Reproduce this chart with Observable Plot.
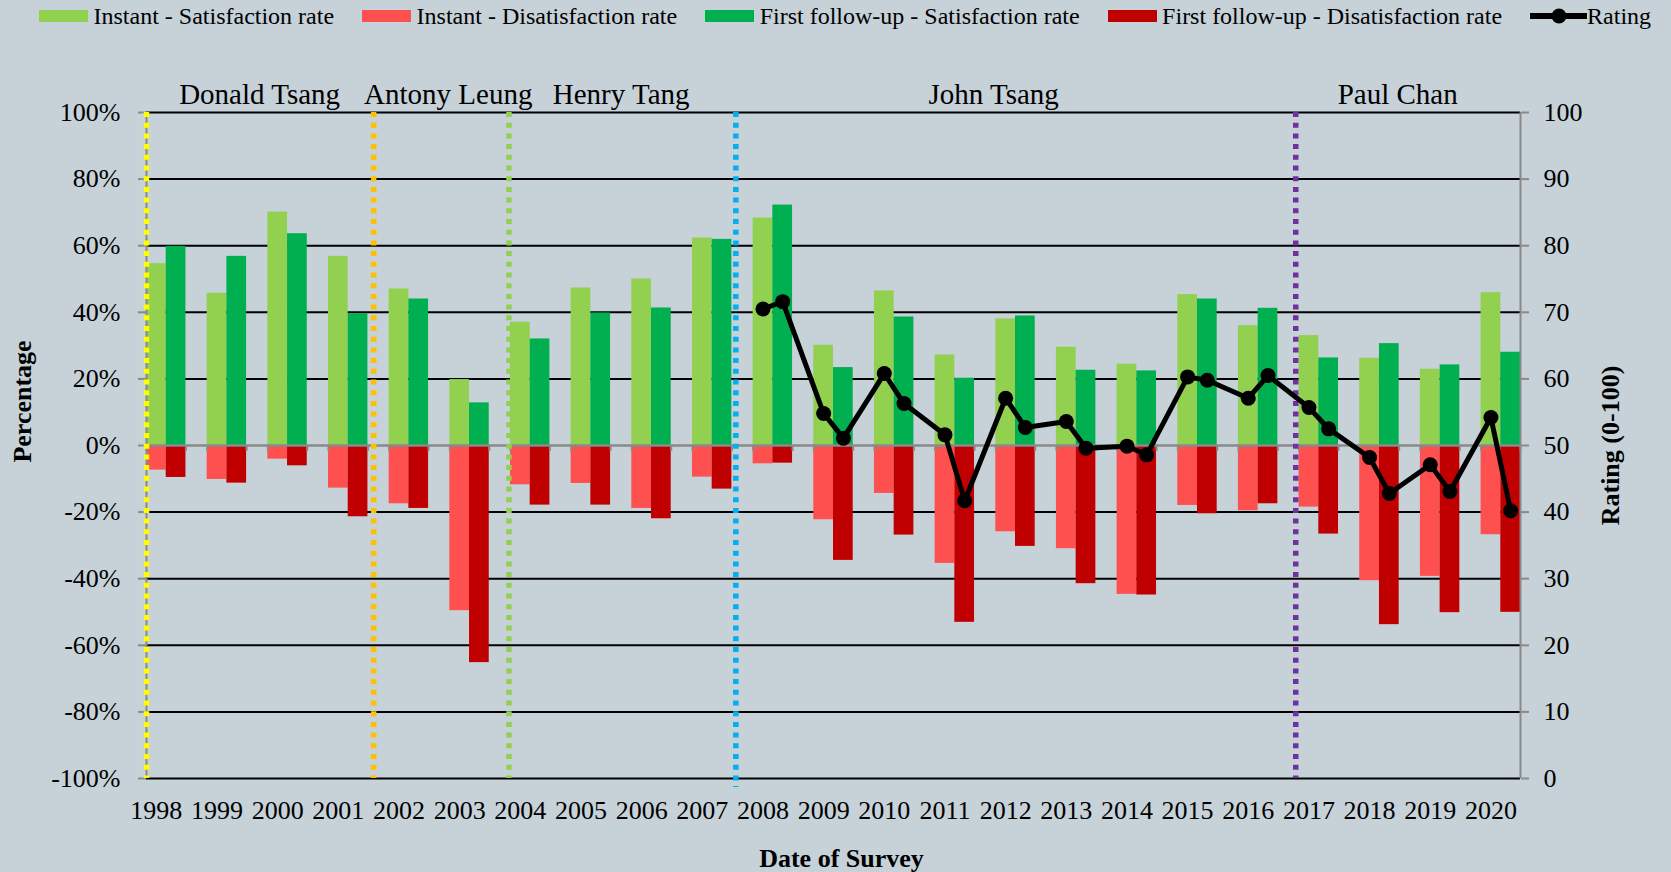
<!DOCTYPE html>
<html>
<head>
<meta charset="utf-8">
<script src="https://cdn.jsdelivr.net/npm/d3@7"></script>
<script src="https://cdn.jsdelivr.net/npm/@observablehq/plot@0.6"></script>
<style>
html, body { margin: 0; padding: 0; background: #C6D1D8; }
body { width: 1671px; height: 872px; overflow: hidden; font-family: 'Liberation Serif', 'Times New Roman', serif; color: #000; }
#legend { height: 32px; display: flex; align-items: center; padding-left: 39px; gap: 28px; font-size: 24px; white-space: nowrap; }
#legend .item { display: flex; align-items: center; }
#legend .sw { width: 49px; height: 12px; margin-right: 5.5px; }
#legend .ln { position: relative; width: 57px; height: 6px; background: #000; }
#legend .ln::after { content: ""; position: absolute; left: 50%; top: 50%; width: 15px; height: 15px; border-radius: 50%; background: #000; transform: translate(-50%, -50%); }
#chart svg { display: block; }
</style>
</head>
<body>
<div id="legend"></div>
<div id="chart"></div>
<script>
// ---- Data ----
const years = [1998, 1999, 2000, 2001, 2002, 2003, 2004, 2005, 2006, 2007, 2008, 2009, 2010, 2011, 2012, 2013, 2014, 2015, 2016, 2017, 2018, 2019, 2020];

const seriesNames = ["Instant - Satisfaction rate", "Instant - Disatisfaction rate", "First follow-up - Satisfaction rate", "First follow-up - Disatisfaction rate"];
const seriesColors = ["#92D050", "#FF5050", "#00B050", "#C00000"];
const ratingName = "Rating";

// percentages
const instantSat = [54.6, 45.7, 70.1, 56.8, 47.0, 19.8, 37.0, 47.3, 50.0, 62.3, 68.3, 30.1, 46.4, 27.2, 38.0, 29.5, 24.4, 45.3, 36.0, 33.0, 26.2, 22.9, 45.9];
const instantDis = [7.4, 10.2, 4.1, 12.8, 17.5, 49.6, 11.8, 11.4, 18.9, 9.5, 5.5, 22.3, 14.4, 35.4, 25.9, 31.0, 44.7, 18.0, 19.6, 18.5, 40.6, 39.3, 26.8];
const followSat = [59.8, 56.8, 63.6, 39.6, 44.0, 12.8, 32.0, 39.8, 41.3, 61.9, 72.2, 23.4, 38.6, 20.2, 38.9, 22.6, 22.4, 44.0, 41.2, 26.3, 30.6, 24.2, 28.0];
const followDis = [9.6, 11.3, 6.1, 21.4, 18.9, 65.2, 17.9, 17.9, 22.0, 13.1, 5.3, 34.5, 26.9, 53.1, 30.3, 41.5, 44.9, 20.5, 17.5, 26.6, 53.8, 50.2, 50.1];

// rating (0-100), only from 2008
const ratingInstant = [null, null, null, null, null, null, null, null, null, null, 70.5, 54.8, 60.8, 51.6, 57.1, 53.6, 49.9, 60.3, 57.1, 55.7, 48.2, 47.1, 54.2];
const ratingFollow  = [null, null, null, null, null, null, null, null, null, null, 71.6, 51.1, 56.3, 41.7, 52.7, 49.6, 48.6, 59.8, 60.5, 52.5, 42.8, 43.1, 40.2];

// Financial Secretaries: term start (in year units on the axis) and label position
const secretaries = ["Donald Tsang", "Antony Leung", "Henry Tang", "John Tsang", "Paul Chan"];
const termStarts = [1997.675, 2001.42, 2003.65, 2007.39, 2016.62];
const labelAt = [1999.54, 2002.65, 2005.5, 2011.64, 2018.3];
const termColors = ["#FFFF00", "#FFC000", "#92D050", "#00B0F0", "#7030A0"];

const pctTicks = [-100, -80, -60, -40, -20, 0, 20, 40, 60, 80, 100];

// ---- Legend ----
const legend = document.getElementById("legend");
seriesNames.forEach((name, i) => {
  const it = document.createElement("div");
  it.className = "item";
  it.innerHTML = `<span class="sw" style="background:${seriesColors[i]}"></span><span>${name}</span>`;
  legend.appendChild(it);
});
{
  const it = document.createElement("div");
  it.className = "item";
  it.innerHTML = `<span class="ln"></span><span>${ratingName}</span>`;
  legend.appendChild(it);
}

// ---- Build tables ----
const half = 0.325; // width of one bar in year units
const rows = years.map((year, i) => ({year, iS: instantSat[i], iD: instantDis[i], fS: followSat[i], fD: followDis[i]}));
const rating = years.flatMap((year, i) => ratingInstant[i] == null ? [] : [
  {x: year - half / 2, r: ratingInstant[i]},
  {x: year + half / 2, r: ratingFollow[i]}
]);
const terms = secretaries.map((name, i) => ({name, start: termStarts[i], at: labelAt[i], color: termColors[i]}));
const toPct = r => r * 2 - 100;
const xMin = years[0] - half, xMax = years[years.length - 1] + half;
const edges = years.flatMap(y => [y - half, y + half]);
const gray = "#8a8a8a";
const dots = {strokeWidth: 5.5, strokeDasharray: "5,5.7"};

const chart = Plot.plot({
  width: 1671,
  height: 840,
  marginLeft: 146,
  marginRight: 151,
  marginTop: 80,
  marginBottom: 94,
  style: {background: "#C6D1D8", fontFamily: "'Liberation Serif', 'Times New Roman', serif", color: "#000", overflow: "visible"},
  x: {type: "linear", domain: [xMin, xMax], axis: null},
  y: {domain: [-100, 100], axis: null},
  color: {type: "identity"},
  marks: [
    Plot.ruleY(pctTicks.filter(d => d !== 0), {y: d => d, stroke: "#000", strokeWidth: 2}),
    Plot.rect(rows, {x1: d => d.year - half, x2: d => d.year, y1: 0, y2: d => d.iS, fill: seriesColors[0]}),
    Plot.rect(rows, {x1: d => d.year - half, x2: d => d.year, y1: 0, y2: d => -d.iD, fill: seriesColors[1]}),
    Plot.rect(rows, {x1: d => d.year, x2: d => d.year + half, y1: 0, y2: d => d.fS, fill: seriesColors[2]}),
    Plot.rect(rows, {x1: d => d.year, x2: d => d.year + half, y1: 0, y2: d => -d.fD, fill: seriesColors[3]}),
    Plot.ruleY([0], {stroke: gray, strokeWidth: 2.5}),
    Plot.ruleX(edges, {x: d => d, y1: 0, y2: -1.8, stroke: gray, strokeWidth: 2}),
    Plot.ruleX([xMin, xMax], {x: d => d, y1: 100, y2: -100, stroke: gray, strokeWidth: 2}),
    Plot.axisY({anchor: "left", ticks: pctTicks, tickFormat: d => `${d}%`, tickSize: 8, tickPadding: 18, stroke: gray, strokeWidth: 2, fontSize: 26, fill: "#000", label: null}),
    Plot.axisY({anchor: "right", ticks: pctTicks, tickFormat: d => String((d + 100) / 2), tickSize: 8, tickPadding: 15, stroke: gray, strokeWidth: 2, fontSize: 26, fill: "#000", label: null}),
    Plot.ruleX(terms.filter(t => t.name !== "John Tsang"), {x: "start", y1: 100, y2: -100, stroke: "color", ...dots}),
    Plot.ruleX(terms.filter(t => t.name === "John Tsang"), {x: "start", y1: 100, y2: -100, insetBottom: -9, stroke: "color", ...dots}),
    Plot.line(rating, {x: "x", y: d => toPct(d.r), stroke: "#000", strokeWidth: 5}),
    Plot.dot(rating, {x: "x", y: d => toPct(d.r), r: 7.5, fill: "#000"}),
    Plot.text(terms, {x: "at", y: 100, text: "name", dy: -9, lineAnchor: "bottom", fontSize: 29, fill: "#000"}),
    Plot.text(years, {x: d => d - half / 2, y: -100, text: d => String(d), lineAnchor: "top", dy: 22, fontSize: 26, fill: "#000"}),
    Plot.text(["Percentage"], {text: d => d, frameAnchor: "left", textAnchor: "middle", lineAnchor: "middle", rotate: -90, dx: -123.5, dy: -44, fontSize: 26, fontWeight: "bold", fill: "#000"}),
    Plot.text(["Rating (0-100)"], {text: d => d, frameAnchor: "right", textAnchor: "middle", lineAnchor: "middle", rotate: -90, dx: 90, fontSize: 26, fontWeight: "bold", fill: "#000"}),
    Plot.text(["Date of Survey"], {text: d => d, frameAnchor: "bottom", textAnchor: "middle", lineAnchor: "bottom", dx: 8, dy: 88, fontSize: 26, fontWeight: "bold", fill: "#000"})
  ]
});
document.getElementById("chart").appendChild(chart);
</script>
</body>
</html>
